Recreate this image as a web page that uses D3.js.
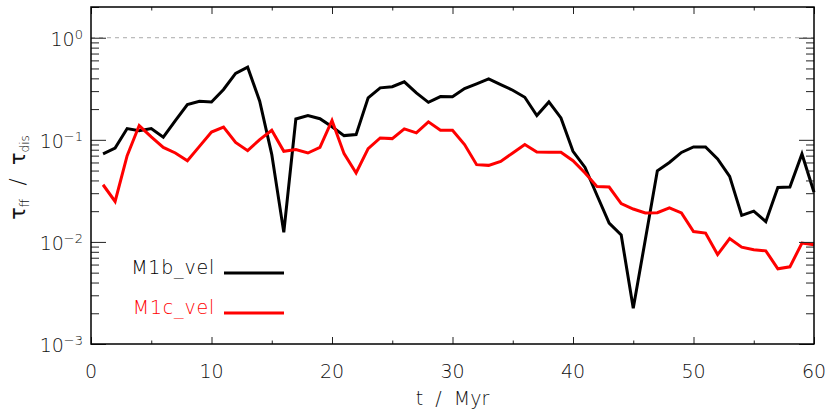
<!DOCTYPE html>
<html>
<head>
<meta charset="utf-8">
<script src="https://cdn.jsdelivr.net/npm/d3@7"></script>
<style>
  body { margin: 0; background: #fff; }
  svg text { font-family: "DejaVu Sans", sans-serif; font-weight: 200; fill: #111; }
</style>
</head>
<body>
<svg id="chart" width="830" height="415"></svg>
<script>
// time axis (Myr)
const times = [1, 2, 3, 4, 5, 6, 7, 8, 9, 10, 11, 12, 13, 14, 15, 16, 17, 18, 19, 20,
    21, 22, 23, 24, 25, 26, 27, 28, 29, 30, 31, 32, 33, 34, 35, 36, 37, 38, 39, 40,
    41, 42, 43, 44, 45, 46, 47, 48, 49, 50, 51, 52, 53, 54, 55, 56, 57, 58, 59, 60];

// tau_ff / tau_dis
const m1bVel = [0.073, 0.083, 0.129, 0.123, 0.129, 0.106, 0.154, 0.221, 0.239, 0.235,
    0.311, 0.447, 0.515, 0.239, 0.072, 0.0124, 0.160, 0.173, 0.161, 0.134,
    0.110, 0.1125, 0.258, 0.323, 0.331, 0.370, 0.288, 0.233, 0.265, 0.264,
    0.318, 0.354, 0.396, 0.348, 0.306, 0.261, 0.173, 0.235, 0.164, 0.0771,
    0.0537, 0.0285, 0.0153, 0.0117, 0.00224, 0.0105, 0.0497, 0.060, 0.0752, 0.0851,
    0.0851, 0.065, 0.0438, 0.0182, 0.0200, 0.0158, 0.0342, 0.0345, 0.0727, 0.0306];

const m1cVel = [0.0363, 0.0249, 0.070, 0.138, 0.1067, 0.0843, 0.0743, 0.0625, 0.0863, 0.119,
    0.133, 0.0944, 0.0783, 0.1005, 0.124, 0.0771, 0.0802, 0.0743, 0.0843, 0.155,
    0.0732, 0.0473, 0.0820, 0.1044, 0.1028, 0.128, 0.117, 0.150, 0.124, 0.124,
    0.0898, 0.0571, 0.0562, 0.0615, 0.0743, 0.0898, 0.0761, 0.0754, 0.0754, 0.0625,
    0.0473, 0.0348, 0.0345, 0.0237, 0.0210, 0.0192, 0.0193, 0.0216, 0.0192, 0.01265,
    0.0122, 0.00752, 0.0108, 0.00889, 0.00837, 0.00818, 0.00545, 0.00570, 0.00973, 0.00936];

const seriesNames = ["M1b_vel", "M1c_vel"];
const xMajorTicks = [0, 10, 20, 30, 40, 50, 60];
const xMinorTicks = [5, 15, 25, 35, 45, 55];
const yMajorTicks = [1e-3, 1e-2, 1e-1, 1];
const yTickExponents = ["\u22123", "\u22122", "\u22121", "0"];

const svg = d3.select("#chart");
const plotLeft = 91, plotRight = 814, plotTop = 7, plotBottom = 344;

const x = d3.scaleLinear().domain([0, 60]).range([plotLeft, plotRight]);
const y = d3.scaleLog().domain([1e-3, 2]).range([plotBottom, plotTop]);

const yMinorTicks = y.ticks().filter(v => !yMajorTicks.some(m => Math.abs(m - v) / m < 1e-6));

// reference line at 1
svg.append("line")
    .attr("x1", plotLeft).attr("x2", plotRight)
    .attr("y1", y(1)).attr("y2", y(1))
    .attr("stroke", "#aaa")
    .attr("stroke-width", 1)
    .attr("stroke-dasharray", "4,4");

// series
const line = d3.line()
    .x((d, i) => x(times[i]))
    .y(d => y(d));

const colors = ["#000", "#f00"];
[m1bVel, m1cVel].forEach((vals, k) => {
    svg.append("path")
        .datum(vals)
        .attr("d", line)
        .attr("fill", "none")
        .attr("stroke", colors[k])
        .attr("stroke-width", 3)
        .attr("stroke-linejoin", "miter");
});

// ticks, all pointing inward
function tickGroup(axis, transform) {
    const g = svg.append("g").attr("transform", transform).call(axis);
    g.select(".domain").remove();
    g.selectAll("text").remove();
    g.selectAll("line").attr("stroke", "#222").attr("stroke-width", 1);
    return g;
}
tickGroup(d3.axisBottom(x).tickValues(xMajorTicks).tickSize(-7), `translate(0,${plotBottom})`);
tickGroup(d3.axisBottom(x).tickValues(xMinorTicks).tickSize(-3.5), `translate(0,${plotBottom})`);
tickGroup(d3.axisTop(x).tickValues(xMajorTicks).tickSize(-7), `translate(0,${plotTop})`);
tickGroup(d3.axisTop(x).tickValues(xMinorTicks).tickSize(-3.5), `translate(0,${plotTop})`);
tickGroup(d3.axisLeft(y).tickValues(yMajorTicks).tickSize(-15), `translate(${plotLeft},0)`);
tickGroup(d3.axisLeft(y).tickValues(yMinorTicks).tickSize(-8), `translate(${plotLeft},0)`);
tickGroup(d3.axisRight(y).tickValues(yMajorTicks).tickSize(-15), `translate(${plotRight},0)`);
tickGroup(d3.axisRight(y).tickValues(yMinorTicks).tickSize(-8), `translate(${plotRight},0)`);

// frame
svg.append("rect")
    .attr("x", plotLeft).attr("y", plotTop)
    .attr("width", plotRight - plotLeft).attr("height", plotBottom - plotTop)
    .attr("fill", "none")
    .attr("stroke", "#000")
    .attr("stroke-width", 1.5);

// tick labels
svg.selectAll(".xlabel")
    .data(xMajorTicks)
    .enter().append("text")
    .attr("class", "xlabel")
    .attr("x", d => x(d))
    .attr("y", 378)
    .attr("text-anchor", "middle")
    .attr("font-size", 19)
    .text(d => d);

const ylab = svg.selectAll(".ylabel")
    .data(yMajorTicks)
    .enter().append("text")
    .attr("class", "ylabel")
    .attr("x", 83)
    .attr("y", d => y(d) + 8)
    .attr("text-anchor", "end")
    .attr("font-size", 19);
ylab.append("tspan").text("10");
ylab.append("tspan")
    .attr("font-size", 13)
    .attr("dy", -7)
    .text((d, i) => yTickExponents[i]);

// axis titles
svg.append("text")
    .attr("x", x(30))
    .attr("y", 405)
    .attr("text-anchor", "middle")
    .attr("font-size", 19)
    .attr("xml:space", "preserve")
    .text("t  /  Myr");

const ytitle = svg.append("text")
    .attr("transform", `translate(25,${(plotTop + plotBottom) / 2 + 2}) rotate(-90)`)
    .attr("text-anchor", "middle")
    .attr("font-size", 21)
    .attr("xml:space", "preserve");
ytitle.append("tspan").style("font-weight", 400).text("\u03c4");
ytitle.append("tspan").attr("font-size", 12).attr("dy", 4).text("ff");
ytitle.append("tspan").attr("dy", -4).text("  /  ");
ytitle.append("tspan").style("font-weight", 400).text("\u03c4");
ytitle.append("tspan").attr("font-size", 12).attr("dy", 4).text("dis");

// legend
const legendY = [273, 313];
seriesNames.forEach((name, k) => {
    svg.append("text")
        .attr("x", 215)
        .attr("y", legendY[k] + 1)
        .attr("text-anchor", "end")
        .attr("font-size", 19)
        .attr("letter-spacing", 0.8)
        .style("fill", colors[k])
        .text(name);
    svg.append("line")
        .attr("x1", 224).attr("x2", 284)
        .attr("y1", legendY[k]).attr("y2", legendY[k])
        .attr("stroke", colors[k])
        .attr("stroke-width", 3);
});
</script>
</body>
</html>
